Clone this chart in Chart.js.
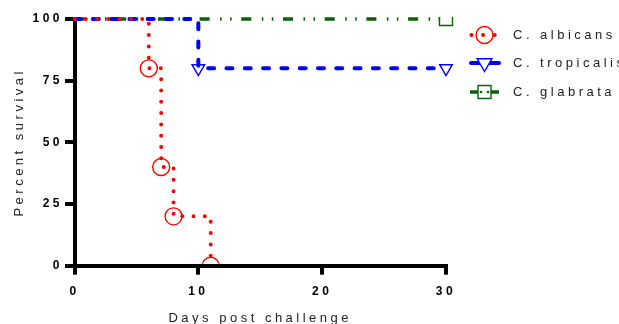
<!DOCTYPE html>
<html>
<head>
<meta charset="utf-8">
<script src="https://cdn.jsdelivr.net/npm/chart.js@4/dist/chart.umd.min.js"></script>
<style>
  html, body { margin: 0; padding: 0; background: #fff; }
  #wrap { width: 619px; height: 324px; }
</style>
</head>
<body>
<div id="wrap"><canvas id="c" width="619" height="324"></canvas></div>
<script>
// ---- data ----
const seriesNames = ['C. albicans', 'C. tropicalis', 'C. glabrata'];
const albicansDays = [0, 6, 7, 8, 11];
const albicansSurvival = [100, 80, 40, 20, 0];
const tropicalisDays = [0, 10, 30];
const tropicalisSurvival = [100, 80, 80];
const glabrataDays = [0, 30];
const glabrataSurvival = [100, 100];
const xTicks = [0, 10, 20, 30];
const yTicks = [0, 25, 50, 75, 100];
const xTitle = 'Days post challenge';
const yTitle = 'Percent survival';

const FONT = 'Arial, "Liberation Sans", sans-serif';
const RED = '#ff0000', BLUE = '#0000ff', GREEN = '#0a5f0a';

function pts(xs, ys) { return xs.map((x, i) => ({ x: x, y: ys[i] })); }

const styles = [
  { color: RED, width: 4, dash: [0, 11.3], cap: 'round', point: 'circle', r: 8.5, rot: 0, clip: { left: 2, top: 2, right: 9, bottom: -2 } },
  { color: BLUE, width: 4, dash: [6, 12.3], cap: 'round', point: 'triangle', r: 7.3, rot: 180, clip: { left: 2, top: 2, right: 9, bottom: 2 } },
  { color: GREEN, width: 3.5, dash: [10, 10.5, 1.5, 8.5, 1.5, 9.7], cap: 'butt', point: 'rect', r: 9.2, rot: 0, clip: { left: 2, top: 2, right: 9, bottom: 2 } }
];

const dataSets = [
  pts(albicansDays, albicansSurvival),
  pts(tropicalisDays, tropicalisSurvival),
  pts(glabrataDays, glabrataSurvival)
];

const datasets = dataSets.map((d, i) => ({
  label: seriesNames[i],
  data: d,
  stepped: 'before',
  clip: styles[i].clip,
  borderColor: styles[i].color,
  borderWidth: styles[i].width,
  borderDash: styles[i].dash,
  borderCapStyle: styles[i].cap,
  fill: false,
  pointStyle: styles[i].point,
  pointRotation: styles[i].rot,
  pointRadius: ctx => ctx.dataIndex === 0 ? 0 : styles[i].r,
  pointBorderColor: styles[i].color,
  pointBackgroundColor: 'rgba(0,0,0,0)',
  pointBorderWidth: 1.4
}));

const spacingPlugin = {
  id: 'spacing',
  beforeUpdate(c) { c.ctx.letterSpacing = '3.5px'; },
  beforeLayout(c) { c.ctx.letterSpacing = '3.5px'; },
  beforeDraw(c) { c.ctx.letterSpacing = '3.5px'; }
};

const legendRows = [35, 63, 92];
const customLegend = {
  id: 'customLegend',
  afterDraw(c) {
    const ctx = c.ctx;
    c.data.datasets.forEach((ds, i) => {
      const s = styles[i];
      const y = legendRows[i];
      ctx.save();
      ctx.strokeStyle = s.color;
      ctx.lineWidth = s.width;
      ctx.lineCap = s.cap;
      if (i === 0) {
        ctx.setLineDash([0, 11.6]);
        ctx.beginPath(); ctx.moveTo(471.5, y); ctx.lineTo(496, y); ctx.stroke();
      } else if (i === 1) {
        ctx.setLineDash([]);
        ctx.lineCap = 'round';
        ctx.beginPath(); ctx.moveTo(471, y); ctx.lineTo(499, y); ctx.stroke();
      } else {
        ctx.setLineDash([]);
        ctx.beginPath(); ctx.moveTo(470, y); ctx.lineTo(499, y); ctx.stroke();
      }
      ctx.setLineDash([]);
      const opts = { pointStyle: s.point, rotation: s.rot, radius: i === 1 ? 8.5 : s.r, borderWidth: 1.4 };
      ctx.lineWidth = 1.4;
      ctx.strokeStyle = s.color;
      ctx.fillStyle = i === 0 ? 'rgba(0,0,0,0)' : '#ffffff';
      Chart.helpers.drawPoint(ctx, opts, 484.5, y);
      if (i === 2) {
        ctx.fillStyle = GREEN;
        [481, 488].forEach(px => { ctx.beginPath(); ctx.arc(px, y, 1.3, 0, Math.PI * 2); ctx.fill(); });
      }
      ctx.restore();
      ctx.save();
      ctx.letterSpacing = '3.5px';
      ctx.font = '13px ' + FONT;
      ctx.fillStyle = '#222';
      ctx.textBaseline = 'middle';
      ctx.textAlign = 'left';
      ctx.fillText(ds.label, 513, y + 0.5);
      ctx.restore();
    });
  }
};

new Chart(document.getElementById('c'), {
  type: 'line',
  data: { datasets: datasets },
  options: {
    responsive: false,
    animation: false,
    devicePixelRatio: 1,
    layout: { padding: { top: 19, right: 173, left: 0, bottom: 0 } },
    plugins: { legend: { display: false }, tooltip: { enabled: false } },
    scales: {
      x: {
        type: 'linear',
        min: 0, max: 30,
        afterBuildTicks(scale) { scale.ticks = xTicks.map(v => ({ value: v })); },
        afterFit(scale) { scale.height = 58.3; },
        ticks: { color: '#000', font: { family: FONT, size: 12, weight: 'bold' }, padding: 10, maxRotation: 0 },
        grid: { display: true, drawOnChartArea: false, drawTicks: true, tickLength: 9, lineWidth: 4, color: '#000' },
        border: { display: true, width: 4, color: '#000' },
        title: { display: true, text: xTitle, color: '#222', font: { family: FONT, size: 13 }, padding: { top: 0, bottom: -2.3 } }
      },
      y: {
        type: 'linear',
        min: 0, max: 100,
        afterBuildTicks(scale) { scale.ticks = yTicks.map(v => ({ value: v })); },
        afterFit(scale) { scale.width = 74.5; },
        ticks: { color: '#000', font: { family: FONT, size: 12, weight: 'bold' }, padding: 2 },
        grid: { display: true, drawOnChartArea: false, drawTicks: true, tickLength: 9.5, lineWidth: 4, color: '#000' },
        border: { display: true, width: 4, color: '#000' },
        title: { display: true, text: yTitle, color: '#222', font: { family: FONT, size: 13 }, padding: { top: 11.7, bottom: 0 } }
      }
    }
  },
  plugins: [spacingPlugin, customLegend]
});
</script>
</body>
</html>
